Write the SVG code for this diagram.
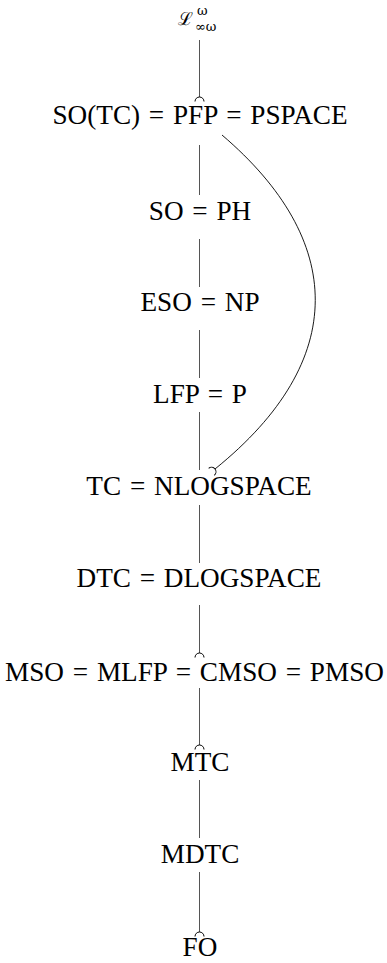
<svg xmlns="http://www.w3.org/2000/svg" width="387" height="963" viewBox="0 0 387 963">
  <style>
    .lbl { font-family: "Liberation Serif", "Times New Roman", serif; font-size: 27.2px; word-spacing: 2px; fill: #000; text-anchor: middle; }
    .sm { font-family: "DejaVu Serif", serif; font-size: 13px; fill: #000; }
    .edge { fill: none; stroke: #555; stroke-width: 1; }
    .curve { fill: none; stroke: #000; stroke-width: 0.9; }
  </style>
  <defs>
    <!-- hook-style tip: a small cap arc across the end of the line -->
    <marker id="hook" markerUnits="userSpaceOnUse" markerWidth="12" markerHeight="12" viewBox="-1 -6 12 12" refX="0" refY="0" orient="auto" overflow="visible">
      <path d="M4.5,-4.5 A4.5,4.5 0 0 0 4.5,4.5" fill="none" stroke="#000" stroke-width="1"/>
    </marker>
  </defs>

  <g id="connectors">
    <line class="edge" x1="199.5" y1="40" x2="199.5" y2="97" marker-end="url(#hook)"/>
    <line class="edge" x1="199.5" y1="145" x2="199.5" y2="195"/>
    <line class="edge" x1="199.5" y1="239" x2="199.5" y2="287"/>
    <line class="edge" x1="199.5" y1="330" x2="199.5" y2="378"/>
    <line class="edge" x1="199.5" y1="412" x2="199.5" y2="470"/>
    <line class="edge" x1="199.5" y1="505" x2="199.5" y2="563"/>
    <line class="edge" x1="199.5" y1="605" x2="199.5" y2="653" marker-end="url(#hook)"/>
    <line class="edge" x1="199.5" y1="688" x2="199.5" y2="745" marker-end="url(#hook)"/>
    <line class="edge" x1="199.5" y1="780" x2="199.5" y2="838"/>
    <line class="edge" x1="199.5" y1="872" x2="199.5" y2="932" marker-end="url(#hook)"/>
    <path class="curve" d="M222,135 C345,240 350,360 215,469" marker-end="url(#hook)"/>
  </g>

  <g id="n-linf">
    <text x="185" y="25" font-family="DejaVu Serif, serif" font-size="18" text-anchor="middle">ℒ</text>
    <text class="sm" x="197" y="15">ω</text>
    <text class="sm" x="195" y="31">∞ω</text>
  </g>
  <g id="n-so-tc"><text class="lbl" x="200" y="124">SO(TC) = PFP = PSPACE</text></g>
  <g id="n-so"><text class="lbl" x="200" y="220">SO = PH</text></g>
  <g id="n-eso"><text class="lbl" x="200" y="311">ESO = NP</text></g>
  <g id="n-lfp"><text class="lbl" x="200" y="403">LFP = P</text></g>
  <g id="n-tc"><text class="lbl" x="199" y="495">TC = NLOGSPACE</text></g>
  <g id="n-dtc"><text class="lbl" x="199" y="587">DTC = DLOGSPACE</text></g>
  <g id="n-mso"><text class="lbl" x="194.5" y="681">MSO = MLFP = CMSO = PMSO</text></g>
  <g id="n-mtc"><text class="lbl" x="200" y="771">MTC</text></g>
  <g id="n-mdtc"><text class="lbl" x="200" y="863">MDTC</text></g>
  <g id="n-fo"><text class="lbl" x="200" y="956">FO</text></g>
</svg>
